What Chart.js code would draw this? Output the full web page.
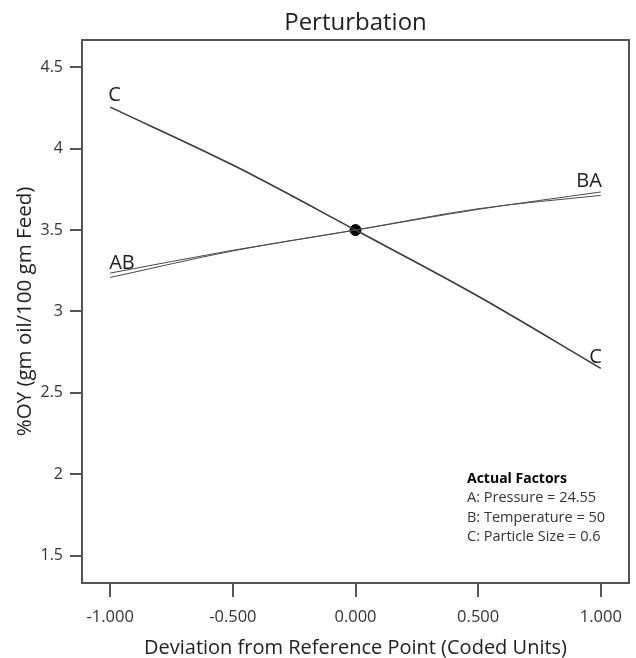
<!DOCTYPE html>
<html>
<head>
<meta charset="utf-8">
<script src="https://cdn.jsdelivr.net/npm/chart.js@4.4.1/dist/chart.umd.min.js"></script>
<style>
  body { margin: 0; background: #fff; }
</style>
</head>
<body>
<canvas id="perturbChart" width="636" height="658"></canvas>
<script>
// coded deviation from the reference point
const devX = [-1, -0.5, 0, 0.5, 1];

// %OY response for each factor
const seriesA = [3.236, 3.376, 3.5, 3.627, 3.734];
const seriesB = [3.209, 3.372, 3.5, 3.631, 3.713];
const seriesC = [4.255, 3.899, 3.5, 3.094, 2.651];

// reference point
const refX = [0];
const refY = [3.5];

const xTicks = [-1, -0.5, 0, 0.5, 1];
const yTicks = [1.5, 2, 2.5, 3, 3.5, 4, 4.5];

const xTitle = 'Deviation from Reference Point (Coded Units)';
const factorTitle = 'Actual Factors';
const factorLines = ['A: Pressure = 24.55', 'B: Temperature = 50', 'C: Particle Size = 0.6'];

const FONT = "'Open Sans', 'Noto Sans', sans-serif";

function points(ys) {
    return devX.map((x, i) => ({ x: x, y: ys[i] }));
}

// frame round the plot area, titles and factor notes
const framePlugin = {
    id: 'frame',
    afterDraw(chart) {
        const { ctx, chartArea: a } = chart;
        const midX = (a.left + a.right) / 2;
        ctx.save();
        ctx.strokeStyle = '#555';
        ctx.lineWidth = 2;
        ctx.strokeRect(a.left, a.top, a.right - a.left, a.bottom - a.top);

        ctx.fillStyle = '#222';
        ctx.font = `24px ${FONT}`;
        ctx.textAlign = 'center';
        ctx.textBaseline = 'alphabetic';
        ctx.fillText('Perturbation', midX, 30);

        // x axis title sits close to the bottom edge
        ctx.font = `20px ${FONT}`;
        ctx.textBaseline = 'middle';
        ctx.fillText(xTitle, midX, chart.height - 10);

        ctx.textAlign = 'left';
        ctx.textBaseline = 'alphabetic';
        const fx = a.right - 162;
        let fy = a.bottom - 100;
        ctx.font = `bold 14px ${FONT}`;
        ctx.fillStyle = '#000';
        ctx.fillText(factorTitle, fx, fy);
        ctx.font = `14.5px ${FONT}`;
        ctx.fillStyle = '#333';
        factorLines.forEach(t => {
            fy += 19.3;
            ctx.fillText(t, fx, fy);
        });
        ctx.restore();
    }
};

// letter tags at the line ends
const tagPlugin = {
    id: 'tags',
    afterDatasetsDraw(chart) {
        const { ctx } = chart;
        const metaA = chart.getDatasetMeta(0).data;
        const metaC = chart.getDatasetMeta(2).data;
        const last = metaA.length - 1;
        ctx.save();
        ctx.fillStyle = '#222';
        ctx.font = `20px ${FONT}`;
        ctx.textBaseline = 'alphabetic';
        ctx.textAlign = 'left';
        ctx.fillText('C', metaC[0].x - 2, metaC[0].y - 6);
        ctx.fillText('AB', metaA[0].x - 1, metaA[0].y - 4);
        ctx.textAlign = 'right';
        ctx.fillText('BA', metaA[last].x + 1, metaA[last].y - 5);
        ctx.fillText('C', metaC[last].x + 1, metaC[last].y - 5);
        ctx.restore();
    }
};

new Chart(document.getElementById('perturbChart'), {
    type: 'line',
    data: {
        datasets: [
            { label: 'A', data: points(seriesA), borderColor: '#4a4a4a', borderWidth: 1, cubicInterpolationMode: 'monotone', pointRadius: 0 },
            { label: 'B', data: points(seriesB), borderColor: '#4a4a4a', borderWidth: 1, cubicInterpolationMode: 'monotone', pointRadius: 0 },
            { label: 'C', data: points(seriesC), borderColor: '#3a3a3a', borderWidth: 1.6, cubicInterpolationMode: 'monotone', pointRadius: 0 },
            {
                label: 'Reference',
                data: refX.map((x, i) => ({ x: x, y: refY[i] })),
                showLine: false,
                pointRadius: 5.5,
                pointBackgroundColor: '#000',
                pointBorderColor: '#000'
            }
        ]
    },
    options: {
        responsive: false,
        animation: false,
        layout: { padding: { top: 40, right: 7, left: 0, bottom: 0 } },
        plugins: {
            legend: { display: false },
            title: { display: false },
            tooltip: { enabled: false }
        },
        scales: {
            x: {
                type: 'linear',
                min: -1.115,
                max: 1.115,
                afterBuildTicks: s => { s.ticks = xTicks.map(v => ({ value: v })); },
                afterFit: s => { s.height = 75; },
                ticks: {
                    callback: v => v.toFixed(3),
                    color: '#333',
                    font: { family: FONT, size: 16.5 },
                    padding: 10,
                    maxRotation: 0
                },
                grid: { drawOnChartArea: false, drawTicks: true, tickLength: 14, color: '#555', lineWidth: 2 },
                border: { display: true, color: '#555', width: 2 }
            },
            y: {
                min: 1.333,
                max: 4.667,
                afterBuildTicks: s => { s.ticks = yTicks.map(v => ({ value: v })); },
                afterFit: s => { s.width = 82; },
                ticks: {
                    callback: v => String(v),
                    color: '#333',
                    font: { family: FONT, size: 16 },
                    padding: 7
                },
                grid: { drawOnChartArea: false, drawTicks: true, tickLength: 12, color: '#555', lineWidth: 2 },
                border: { display: true, color: '#555', width: 2 },
                title: {
                    display: true,
                    text: '%OY (gm oil/100 gm Feed)',
                    color: '#222',
                    font: { family: FONT, size: 20.5 },
                    padding: { top: 13, bottom: 0 }
                }
            }
        }
    },
    plugins: [framePlugin, tagPlugin]
});
</script>
</body>
</html>
